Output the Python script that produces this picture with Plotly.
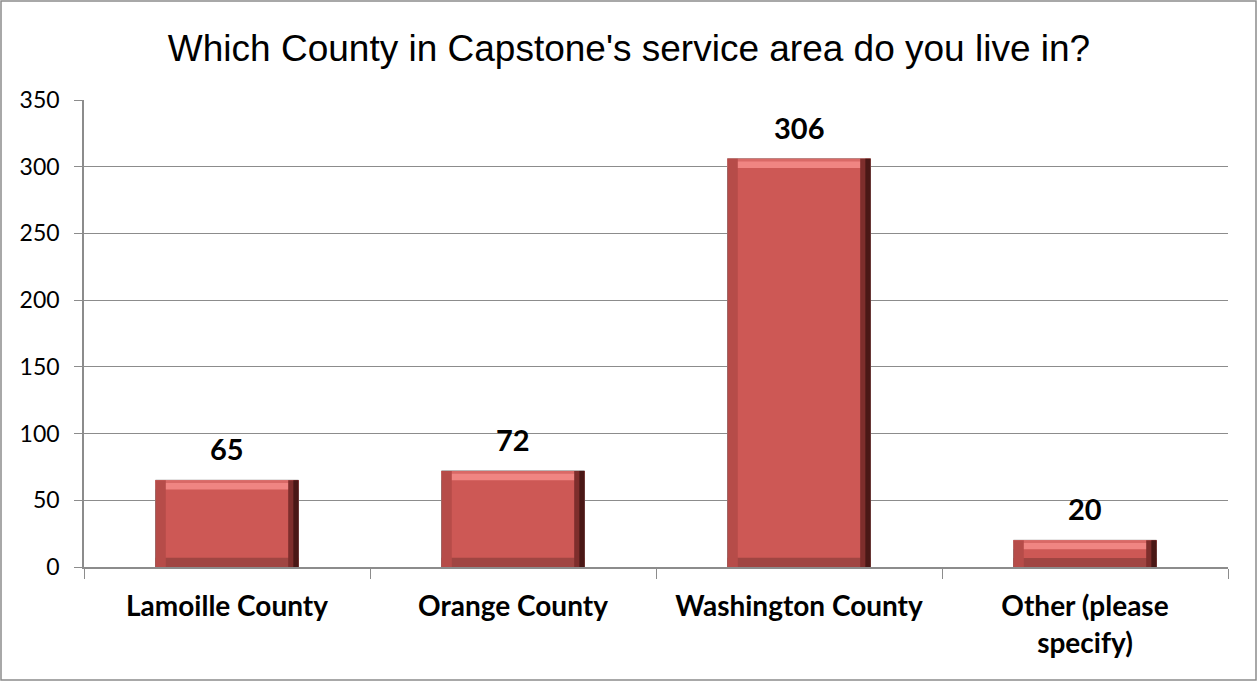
import plotly.graph_objects as go

# Survey responses by county
categories = ["Lamoille County", "Orange County", "Washington County", "Other (please<br>specify)"]
counts = [65, 72, 306, 20]
y_ticks = [0, 50, 100, 150, 200, 250, 300, 350]

FACE = "#CD5855"
TOP = "#F08582"
TOP_RIM = "#D96966"
RIGHT = "#4A1816"
RIGHT_IN = "#7E2E2C"
BOTTOM = "#A04542"
LEFT = "#B64C49"

BAR_W = 0.5
EDGE_X = 0.036   # bevel thickness across a category (fraction of a slot)
EDGE_Y = 7.0     # bevel thickness in data units


def strip(y, base, width, offset, color):
    return go.Bar(x=categories, y=y, base=base, width=width, offset=offset,
                  marker=dict(color=color, line=dict(width=0)), hoverinfo="skip")


fig = go.Figure()

# main bar face
fig.add_trace(go.Bar(
    x=categories, y=counts, width=BAR_W, offset=-BAR_W / 2,
    marker=dict(color=FACE, line=dict(color="#8A8080", width=1)),
    hoverinfo="x+y",
))

# bevel strips (derived from the same counts)
edge = [min(EDGE_Y, c / 3) for c in counts]
rim = [e * 0.3 for e in edge]
fig.add_trace(strip(edge, [c - e for c, e in zip(counts, edge)], BAR_W, -BAR_W / 2, TOP))
fig.add_trace(strip(rim, [c - r for c, r in zip(counts, rim)], BAR_W, -BAR_W / 2, TOP_RIM))
fig.add_trace(strip(edge, [0] * len(counts), BAR_W, -BAR_W / 2, BOTTOM))
fig.add_trace(strip(counts, None, EDGE_X, -BAR_W / 2, LEFT))
fig.add_trace(strip(counts, None, EDGE_X, BAR_W / 2 - EDGE_X, RIGHT_IN))
fig.add_trace(strip(counts, None, EDGE_X / 2, BAR_W / 2 - EDGE_X / 2, RIGHT))

# value labels above each bar
annotations = [dict(x=cat, y=val, text=str(val), showarrow=False, yanchor="bottom",
                    yshift=12, font=dict(family="Lato", size=29, color="black", weight="bold"))
               for cat, val in zip(categories, counts)]

fig.update_layout(
    width=1258, height=681,
    margin=dict(l=84, r=30, t=100, b=114),
    paper_bgcolor="white", plot_bgcolor="white",
    barmode="overlay", showlegend=False,
    title=dict(text="Which County in Capstone's service area do you live in?",
               x=0.5, xanchor="center", y=0.93, yanchor="middle",
               font=dict(family="Liberation Sans", size=37, color="black")),
    xaxis=dict(range=[-0.5, 3.5], showgrid=False, showline=True, linecolor="#8C8C8C", linewidth=1.5,
               ticks="outside", tickson="boundaries", ticklen=10, tickcolor="#8C8C8C",
               ticklabelstandoff=14,
               tickfont=dict(family="Lato", size=28, color="black", weight="bold")),
    yaxis=dict(range=[0, 350], tickvals=y_ticks, showgrid=True, gridcolor="#8C8C8C", gridwidth=1,
               showline=True, linecolor="#8C8C8C", linewidth=1.5, zeroline=False,
               ticks="outside", ticklen=8, tickcolor="#8C8C8C", ticklabelstandoff=10,
               tickfont=dict(family="Lato", size=23, color="black")),
    annotations=annotations,
    shapes=[dict(type="rect", xref="paper", yref="paper",
                 x0=-83 / 1144, x1=1172 / 1144, y0=-113 / 467, y1=566 / 467,
                 line=dict(color="#8C8C8C", width=1.5), fillcolor="rgba(0,0,0,0)", layer="below")],
)

fig.write_html("out.html")
